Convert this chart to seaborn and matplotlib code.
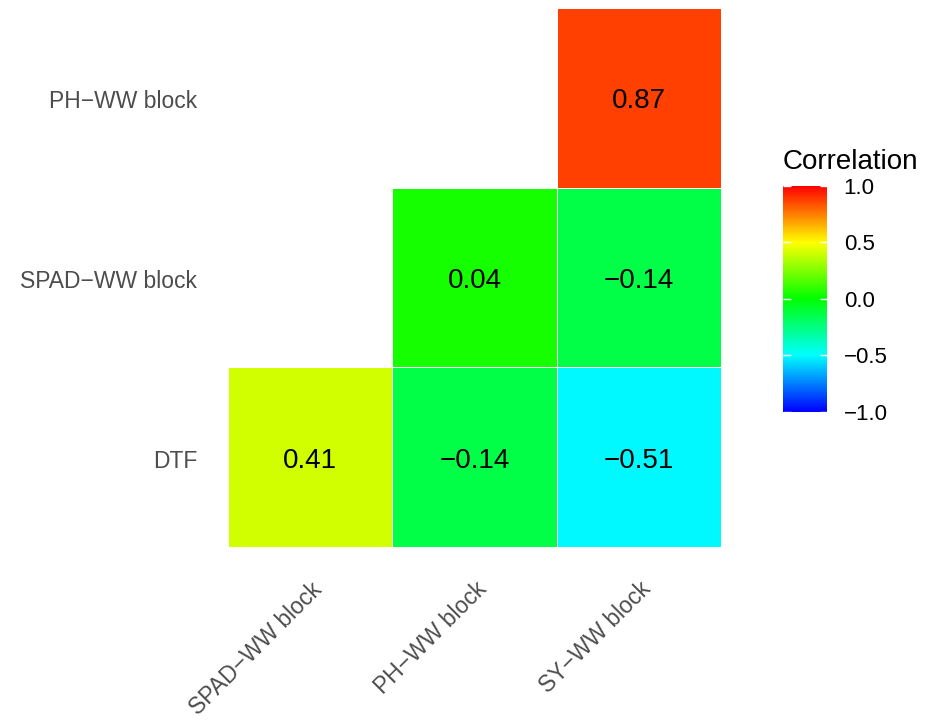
import numpy as np
import pandas as pd
import matplotlib
matplotlib.use("Agg")
import matplotlib.pyplot as plt
import matplotlib.transforms as mtransforms
from matplotlib.colors import LinearSegmentedColormap
import seaborn as sns

# Trait correlations (lower triangle)
row_labels = ["PH\u2212WW block", "SPAD\u2212WW block", "DTF"]
col_labels = ["SPAD\u2212WW block", "PH\u2212WW block", "SY\u2212WW block"]
row_ph = [np.nan, np.nan, 0.87]
row_spad = [np.nan, 0.04, -0.14]
row_dtf = [0.41, -0.14, -0.51]
cbar_ticks = [-1.0, -0.5, 0.0, 0.5, 1.0]

corr = pd.DataFrame([row_ph, row_spad, row_dtf], index=row_labels, columns=col_labels)
mask = corr.isna()
annot = corr.map(lambda v: "" if np.isnan(v) else f"{v:.2f}".replace("-", "\u2212"))

sns.set_theme(style="white")
plt.rcParams["font.family"] = ["Liberation Sans", "DejaVu Sans"]

cmap = LinearSegmentedColormap.from_list(
    "corr_rainbow", ["#0000FF", "#00FFFF", "#00FF00", "#FFFF00", "#FF0000"])

fig = plt.figure(figsize=(9.26, 7.2), dpi=100)
ax = fig.add_axes([0.246, 0.240, 0.533, 0.749])
cax = fig.add_axes([0.8456, 0.428, 0.0475, 0.314])

sns.heatmap(corr, mask=mask, cmap=cmap, vmin=-1, vmax=1, annot=annot, fmt="",
            annot_kws={"fontsize": 20, "color": "black"},
            linewidths=0.5, linecolor="white", square=False,
            ax=ax, cbar_ax=cax, cbar_kws={"ticks": cbar_ticks})

# nudge the value labels slightly below cell centre
for t in ax.texts:
    x, y = t.get_position()
    t.set_position((x, y + 0.02))

ax.set_xlabel("")
ax.set_ylabel("")
ax.tick_params(axis="both", length=0, labelsize=16.5, labelcolor="#4D4D4D")
ax.tick_params(axis="y", pad=22)
ax.tick_params(axis="x", pad=22)
plt.setp(ax.get_yticklabels(), rotation=0, ha="right", va="center")
plt.setp(ax.get_xticklabels(), rotation=45, ha="right", va="top", rotation_mode="anchor")
shift = mtransforms.ScaledTranslation(0, -3 / 72, fig.dpi_scale_trans)
for lbl in ax.get_yticklabels():
    lbl.set_transform(lbl.get_transform() + shift)
for s in ax.spines.values():
    s.set_visible(False)

cbar = ax.collections[0].colorbar
cbar.outline.set_visible(False)
cbar.set_ticklabels([f"{t:.1f}".replace("-", "\u2212") for t in cbar_ticks])
cax.tick_params(axis="y", length=0, labelsize=16, labelcolor="black", pad=12)
# short white guide marks on both edges of the colour bar
for t in cbar_ticks:
    cax.plot([0, 0.17], [t, t], color="white", lw=1, transform=cax.get_yaxis_transform(),
             zorder=5, solid_capstyle="butt")
    cax.plot([0.83, 1.0], [t, t], color="white", lw=1, transform=cax.get_yaxis_transform(),
             zorder=5, solid_capstyle="butt")
cax.set_title("Correlation", fontsize=20, loc="left", pad=12, x=0.0, color="black")

fig.savefig("out.png", dpi=100, facecolor="white")
